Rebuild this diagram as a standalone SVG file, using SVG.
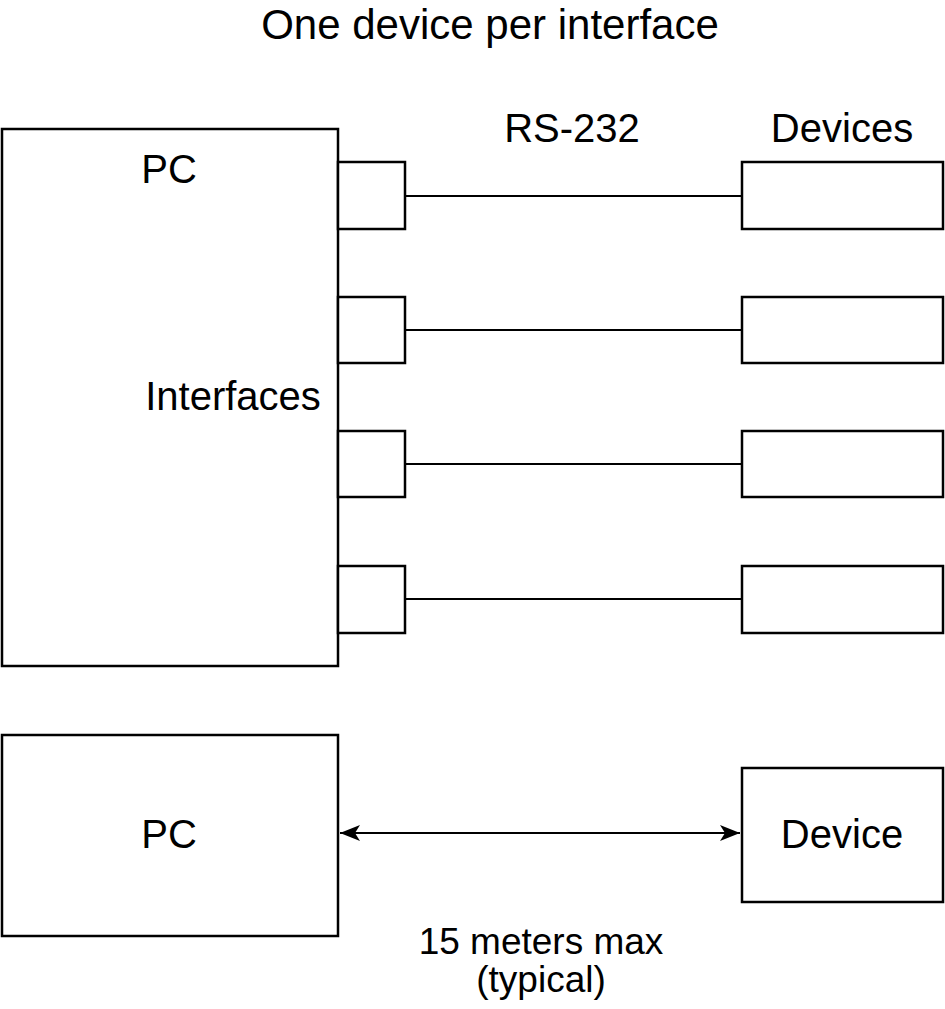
<svg xmlns="http://www.w3.org/2000/svg" width="945" height="1009" viewBox="0 0 945 1009">
<style>
.box{fill:#fff;stroke:#000;stroke-width:2.5}
.ln{stroke:#000;stroke-width:2;fill:none}
text{font-family:"Liberation Sans",Arial,sans-serif;fill:#000;text-anchor:middle}
.t40{font-size:40px}
.t37{font-size:37px}
.t44{font-size:42px}
</style>
<defs>
<marker id="ah" viewBox="0 0 20 16" refX="20" refY="8" markerWidth="20" markerHeight="16" markerUnits="userSpaceOnUse" orient="auto-start-reverse">
<path d="M0,0 L20,8 L0,16 L5,8 Z" fill="#000"/>
</marker>
</defs>
<text class="t44" x="490" y="38.5">One device per interface</text>
<text class="t40" x="572" y="142">RS-232</text>
<text class="t40" x="842" y="142">Devices</text>
<g id="pc1">
<rect class="box" x="2" y="129" width="336" height="537"/>
<text class="t40" x="169" y="183">PC</text>
<text class="t40" x="233" y="410">Interfaces</text>
</g>
<g id="if1"><rect class="box" x="338" y="162" width="67" height="67"/></g>
<g id="if2"><rect class="box" x="338" y="297" width="67" height="66"/></g>
<g id="if3"><rect class="box" x="338" y="431" width="67" height="66"/></g>
<g id="if4"><rect class="box" x="338" y="566" width="67" height="67"/></g>
<g id="dev1"><rect class="box" x="742" y="162" width="201" height="67"/></g>
<g id="dev2"><rect class="box" x="742" y="297" width="201" height="66"/></g>
<g id="dev3"><rect class="box" x="742" y="431" width="201" height="66"/></g>
<g id="dev4"><rect class="box" x="742" y="566" width="201" height="67"/></g>
<g id="pc2">
<rect class="box" x="2" y="735" width="336" height="201"/>
<text class="t40" x="169" y="848">PC</text>
</g>
<g id="device">
<rect class="box" x="742" y="768" width="201" height="134"/>
<text class="t40" x="842" y="848">Device</text>
</g>
<g id="connectors">
<line class="ln" x1="405" y1="196" x2="742" y2="196"/>
<line class="ln" x1="405" y1="330" x2="742" y2="330"/>
<line class="ln" x1="405" y1="464" x2="742" y2="464"/>
<line class="ln" x1="405" y1="599" x2="742" y2="599"/>
<line class="ln" x1="340" y1="833" x2="740" y2="833" marker-start="url(#ah)" marker-end="url(#ah)"/>
</g>
<text class="t37" x="541" y="954">15 meters max</text>
<text class="t37" x="541" y="992">(typical)</text>
</svg>
